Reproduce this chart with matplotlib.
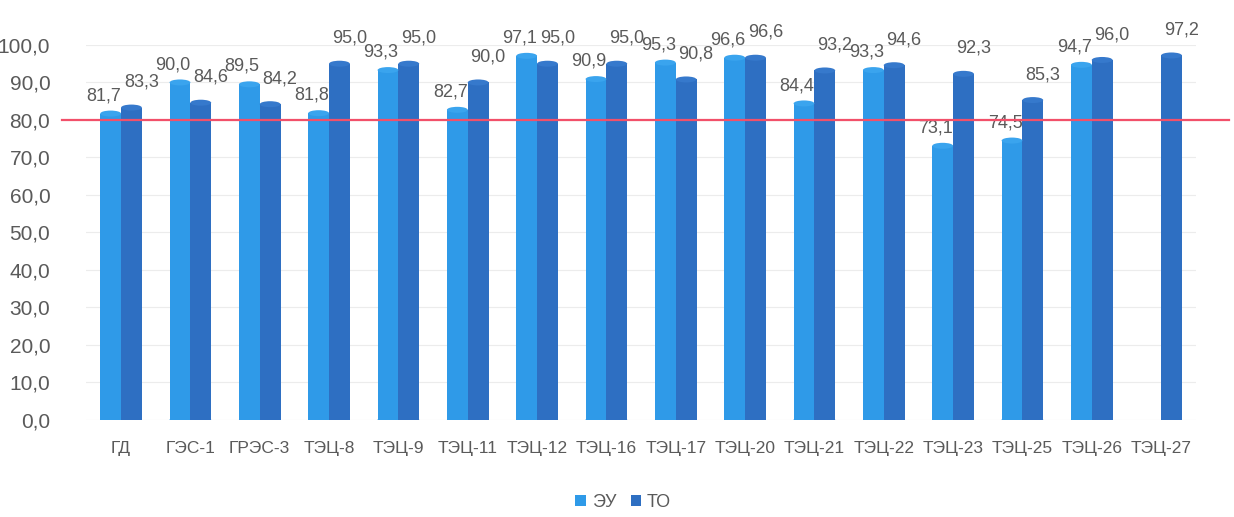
import matplotlib
matplotlib.use("Agg")
import matplotlib.pyplot as plt
import matplotlib.transforms as mtransforms
from matplotlib.patches import Ellipse
import numpy as np

plt.rcParams["font.family"] = ["Liberation Sans", "DejaVu Sans"]

categories = ["ГД", "ГЭС-1", "ГРЭС-3", "ТЭЦ-8", "ТЭЦ-9", "ТЭЦ-11", "ТЭЦ-12",
              "ТЭЦ-16", "ТЭЦ-17", "ТЭЦ-20", "ТЭЦ-21", "ТЭЦ-22", "ТЭЦ-23",
              "ТЭЦ-25", "ТЭЦ-26", "ТЭЦ-27"]
eu_values = [81.7, 90.0, 89.5, 81.8, 93.3, 82.7, 97.1, 90.9, 95.3, 96.6,
             84.4, 93.3, 73.1, 74.5, 94.7, None]
to_values = [83.3, 84.6, 84.2, 95.0, 95.0, 90.0, 95.0, 95.0, 90.8, 96.6,
             93.2, 94.6, 92.3, 85.3, 96.0, 97.2]
threshold = 80.0
yticks = np.arange(0, 101, 10)

EU_COLOR = "#2f9ae8"
TO_COLOR = "#2e6fc2"
TEXT_COLOR = "#5a5a5a"

fig = plt.figure(figsize=(12.34, 5.17), dpi=100)
ax = fig.add_axes([0.070, 0.188, 0.899, 0.725])

x = np.arange(len(categories))
w = 0.30


def cylinders(xs, vals, color, cap_color, label):
    xs = [xi for xi, v in zip(xs, vals) if v is not None]
    vs = [v for v in vals if v is not None]
    ax.bar(xs, vs, width=w, color=color, label=label, zorder=3,
           edgecolor="none")
    for xi, v in zip(xs, vs):
        ax.add_patch(Ellipse((xi, v), w, 1.6, facecolor=cap_color,
                             edgecolor="none", zorder=4))
        ax.add_patch(Ellipse((xi, 0), w, 1.6, facecolor=color,
                             edgecolor="none", zorder=2))


cylinders(x - w / 2, eu_values, EU_COLOR, "#3aa4ee", "ЭУ")
cylinders(x + w / 2, to_values, TO_COLOR, "#3679cc", "ТО")

# data labels: ЭУ to the left of the pair, ТО to the right and a bit higher
for xi, v in zip(x, eu_values):
    if v is None:
        continue
    ax.text(xi, v + 2.5, f"{v:.1f}".replace(".", ","),
            ha="right", va="bottom", fontsize=13, color=TEXT_COLOR,
            clip_on=False, zorder=5)
for xi, v in zip(x, to_values):
    ax.text(xi + 0.04, v + 4.5, f"{v:.1f}".replace(".", ","),
            ha="left", va="bottom", fontsize=13, color=TEXT_COLOR,
            clip_on=False, zorder=5)

# threshold line, runs a little past the plot area
trans = mtransforms.blended_transform_factory(ax.transAxes, ax.transData)
ax.plot([-0.022, 1.03], [threshold, threshold], color="#f2506a", lw=1.6,
        transform=trans, clip_on=False, zorder=6)

ax.set_xlim(-0.5, len(categories) - 0.5)
ax.set_ylim(0, 100)
ax.set_yticks(yticks)
ax.set_yticklabels([f"{t:.1f}".replace(".", ",") for t in yticks])
ax.set_xticks(x)
ax.set_xticklabels(categories)
ax.tick_params(axis="y", length=0, pad=26, labelsize=15,
               labelcolor=TEXT_COLOR)
ax.tick_params(axis="x", length=0, pad=15, labelsize=12.5,
               labelcolor=TEXT_COLOR)
ax.grid(axis="y", color="#ececec", lw=0.8, zorder=0)
for s in ax.spines.values():
    s.set_visible(False)

fig.legend(loc="lower center", bbox_to_anchor=(0.505, -0.02), ncol=2,
           frameon=False, handlelength=0.6, handleheight=0.6,
           handletextpad=0.3, columnspacing=0.8, fontsize=13,
           labelcolor=TEXT_COLOR)

fig.savefig("out.png", dpi=100)
